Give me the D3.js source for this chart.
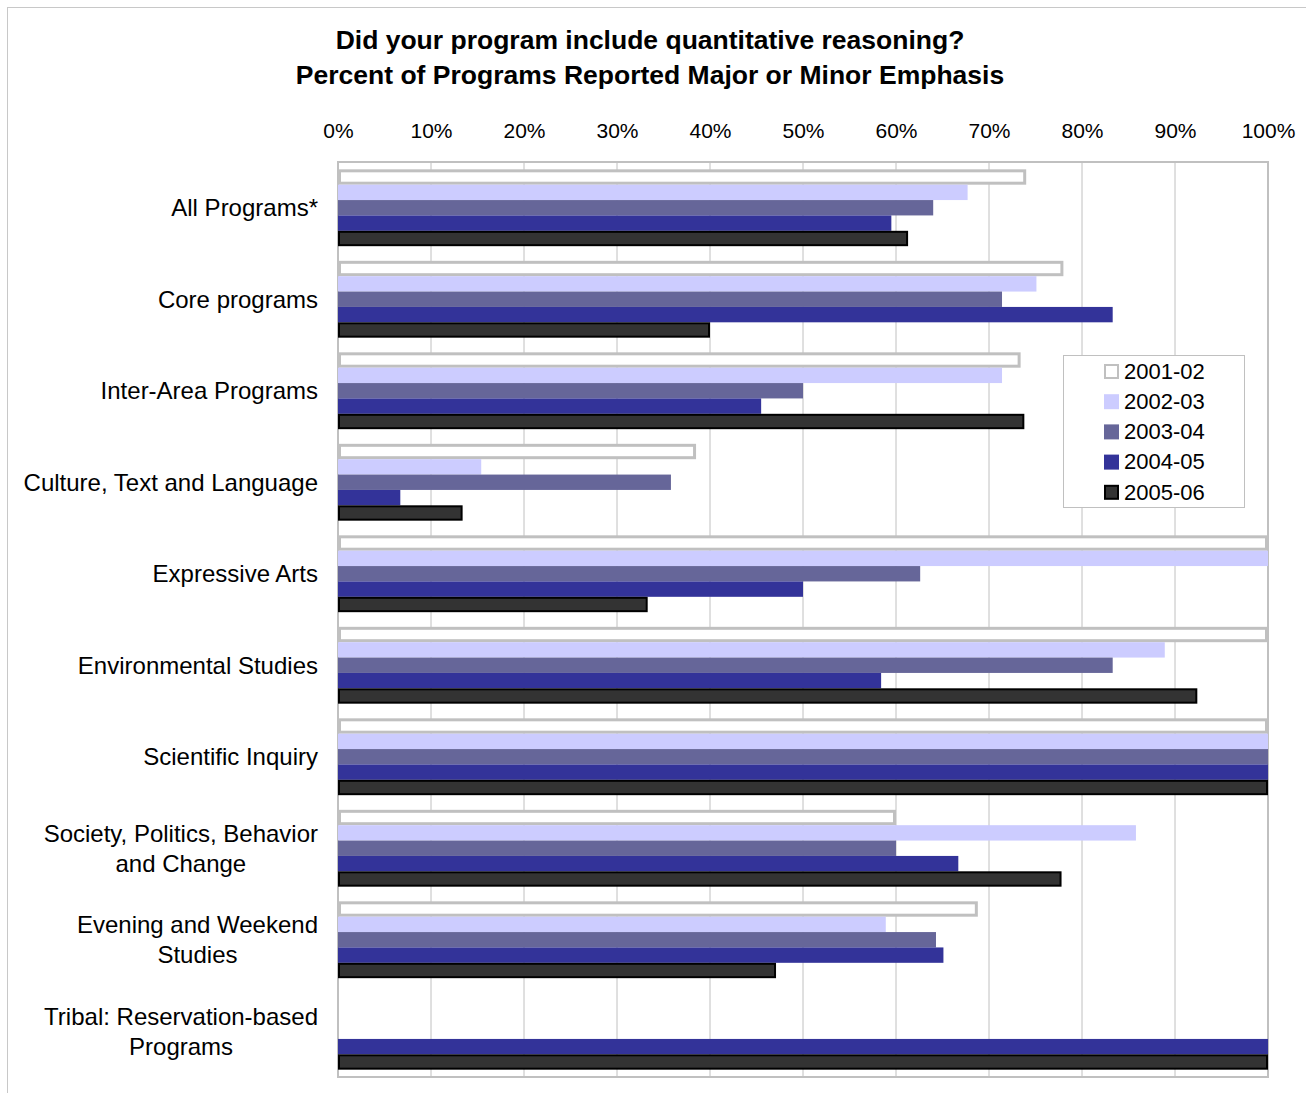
<!DOCTYPE html>
<html>
<head>
<meta charset="utf-8">
<script src="https://cdn.jsdelivr.net/npm/d3@7"></script>
<style>
  body { margin: 0; background: #fff; }
  text { font-family: "Liberation Sans", Arial, sans-serif; fill: #000; }
</style>
</head>
<body>
<div id="chart"></div>
<script>
// Did your program include quantitative reasoning?

var categories = [
  ["All Programs*"],
  ["Core programs"],
  ["Inter-Area Programs"],
  ["Culture, Text and Language"],
  ["Expressive Arts"],
  ["Environmental Studies"],
  ["Scientific Inquiry"],
  ["Society, Politics, Behavior", "and Change"],
  ["Evening and Weekend", "Studies"],
  ["Tribal: Reservation-based", "Programs"]
];

var seriesNames = ["2001-02", "2002-03", "2003-04", "2004-05", "2005-06"];

var v2001 = [74, 78, 73.4, 38.5, 100, 100, 100, 60, 68.8, null];
var v2002 = [67.7, 75.1, 71.4, 15.4, 100, 88.9, 100, 85.8, 58.9, null];
var v2003 = [64, 71.4, 50, 35.8, 62.6, 83.3, 100, 60, 64.3, null];
var v2004 = [59.5, 83.3, 45.5, 6.7, 50, 58.4, 100, 66.7, 65.1, 100];
var v2005 = [61.3, 40, 73.8, 13.4, 33.3, 92.4, 100, 77.8, 47.1, 100];

var ticks = [0, 10, 20, 30, 40, 50, 60, 70, 80, 90, 100];

var allSeries = [v2001, v2002, v2003, v2004, v2005];
var fills = ["#ffffff", "#ccccff", "#666699", "#333399", "#333333"];
var strokes = ["#c0c0c0", "none", "none", "none", "#000000"];

var svgWidth = 1306;
var svgHeight = 1093;

var margin = { top: 162, right: 38, bottom: 16, left: 338 };
var width = svgWidth - margin.left - margin.right;
var height = svgHeight - margin.top - margin.bottom;

var svg = d3.select("#chart")
  .append("svg")
  .attr("width", svgWidth)
  .attr("height", svgHeight);

// outer frame
svg.append("rect")
  .attr("x", 7.5).attr("y", 7.5)
  .attr("width", svgWidth).attr("height", svgHeight)
  .attr("fill", "none")
  .attr("stroke", "#c8c8c8")
  .attr("stroke-width", 1);

// title
svg.append("text")
  .attr("x", 650).attr("y", 49)
  .attr("text-anchor", "middle")
  .style("font-size", "26.5px").style("font-weight", "bold")
  .text("Did your program include quantitative reasoning?");
svg.append("text")
  .attr("x", 650).attr("y", 84)
  .attr("text-anchor", "middle")
  .style("font-size", "26.5px").style("font-weight", "bold")
  .text("Percent of Programs Reported Major or Minor Emphasis");

var chartGroup = svg.append("g")
  .attr("transform", `translate(${margin.left}, ${margin.top})`);

var xScale = d3.scaleLinear().domain([0, 100]).range([0, width]);

var yScale = d3.scaleBand()
  .domain(d3.range(categories.length))
  .range([0, height])
  .paddingInner(0.16)
  .paddingOuter(0.08);

var ySub = d3.scaleBand()
  .domain(d3.range(seriesNames.length))
  .range([0, yScale.bandwidth()]);

// gridlines
chartGroup.append("g")
  .selectAll("line")
  .data(ticks)
  .enter()
  .append("line")
  .attr("x1", d => xScale(d)).attr("x2", d => xScale(d))
  .attr("y1", 0).attr("y2", height)
  .attr("stroke", "#c0c0c0")
  .attr("stroke-width", 1);

chartGroup.append("rect")
  .attr("width", width).attr("height", height)
  .attr("fill", "none")
  .attr("stroke", "#c0c0c0")
  .attr("stroke-width", 2);

// top axis labels
var topAxis = d3.axisTop(xScale)
  .tickValues(ticks)
  .tickFormat(d => d + "%")
  .tickSize(0)
  .tickPadding(24);

var axisG = chartGroup.append("g").call(topAxis);
axisG.select(".domain").remove();
axisG.selectAll("text")
  .style("font-size", "21px")
  .style("font-family", "Liberation Sans, Arial, sans-serif");

// bars
allSeries.forEach(function(vals, si) {
  var data = vals.map((v, ci) => ({ v: v, ci: ci })).filter(d => d.v !== null);
  var sw = si === 0 ? 3 : (si === 4 ? 2 : 0);
  chartGroup.append("g")
    .selectAll("rect")
    .data(data)
    .enter()
    .append("rect")
    .attr("x", sw / 2)
    .attr("y", d => yScale(d.ci) + ySub(si) + sw / 2)
    .attr("width", d => Math.max(0, xScale(d.v) - sw))
    .attr("height", ySub.bandwidth() - sw)
    .attr("fill", fills[si])
    .attr("stroke", strokes[si])
    .attr("stroke-width", sw);
});

// category labels
var labelRight = -20;
categories.forEach(function(lines, ci) {
  var cy = yScale(ci) + yScale.bandwidth() / 2;
  var g = chartGroup.append("g");
  var texts = lines.map(function(line, li) {
    return g.append("text")
      .attr("y", cy + (li - (lines.length - 1) / 2) * 30)
      .attr("dy", "0.35em")
      .attr("text-anchor", "middle")
      .style("font-size", "24px")
      .text(line);
  });
  var maxW = d3.max(texts, t => t.node().getComputedTextLength());
  texts.forEach(t => t.attr("x", labelRight - maxW / 2));
});

// legend
var legend = svg.append("g").attr("transform", "translate(1063, 355)");
legend.append("rect")
  .attr("x", 0.5).attr("y", 0.5)
  .attr("width", 181).attr("height", 152)
  .attr("fill", "#fff")
  .attr("stroke", "#c0c0c0");

seriesNames.forEach(function(name, si) {
  var ly = 16 + si * 30.2;
  var sw = si === 0 || si === 4 ? 2 : 0;
  legend.append("rect")
    .attr("x", 41 + sw / 2).attr("y", ly - 7 + sw / 2)
    .attr("width", 15 - sw).attr("height", 15 - sw)
    .attr("fill", fills[si])
    .attr("stroke", strokes[si])
    .attr("stroke-width", sw);
  legend.append("text")
    .attr("x", 61).attr("y", ly)
    .attr("dy", "0.35em")
    .style("font-size", "22px")
    .text(name);
});
</script>
</body>
</html>
